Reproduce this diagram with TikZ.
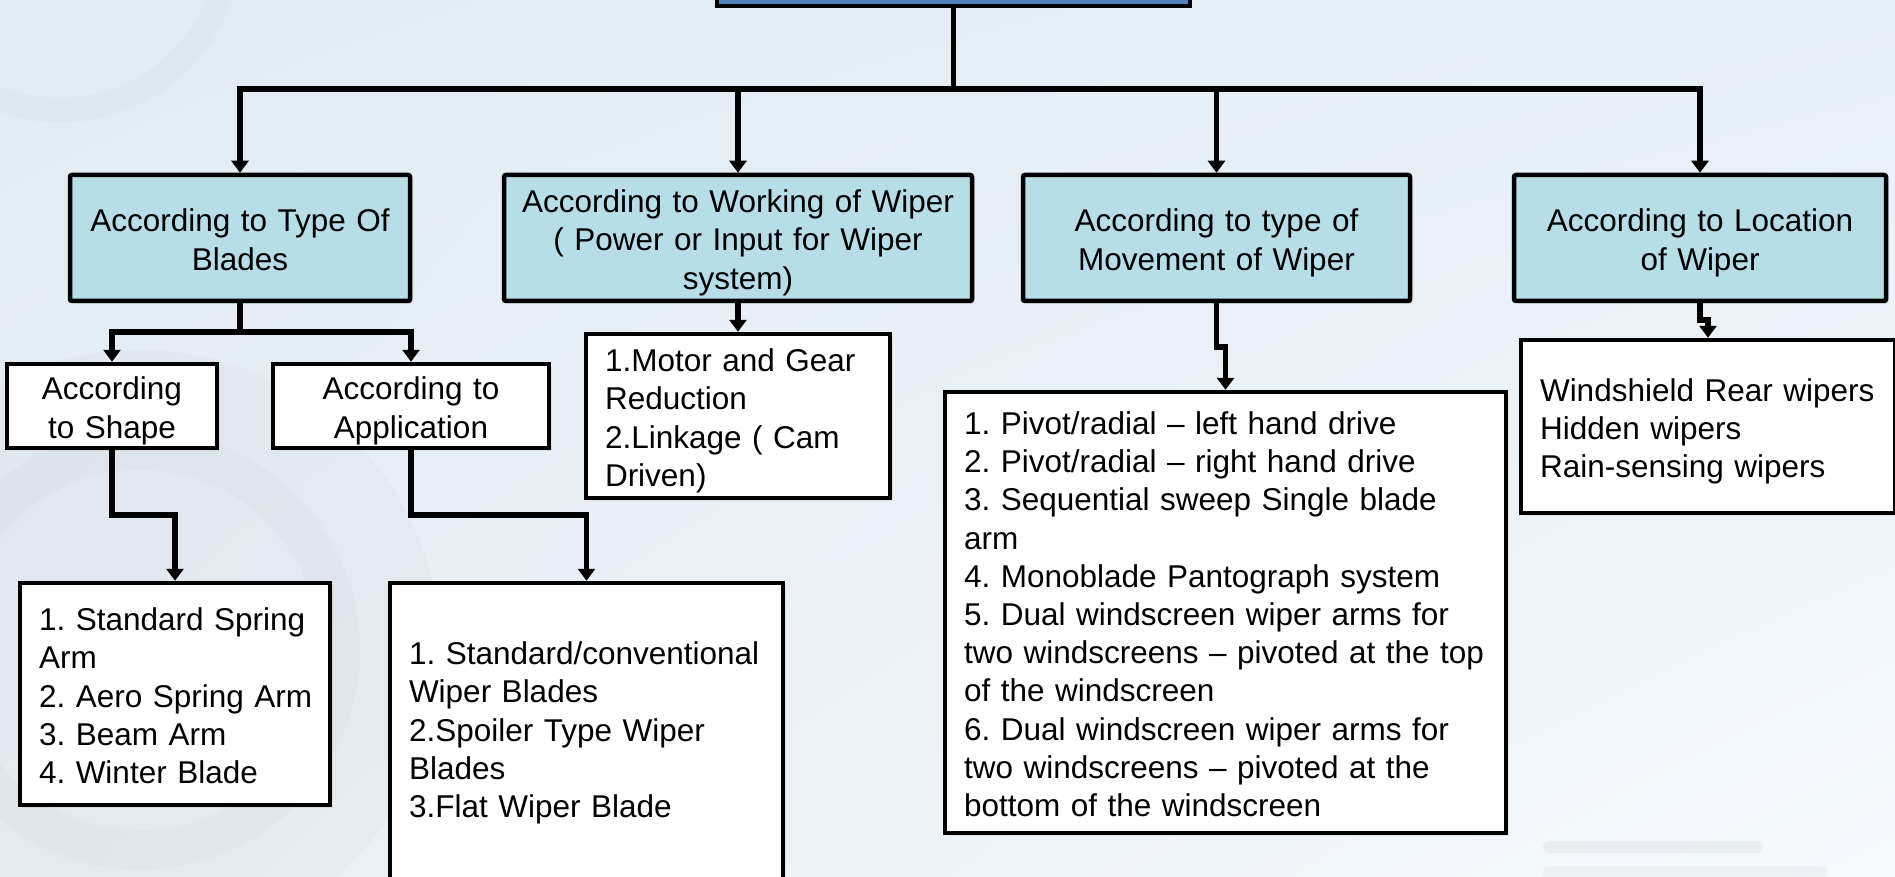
\documentclass[tikz,border=0pt]{standalone}
\usepackage{fontspec}
\setmainfont{Liberation Sans}
\usetikzlibrary{arrows.meta,shadows,shadings}

\definecolor{bgUL}{HTML}{E1EAF3}
\definecolor{bgUR}{HTML}{E7EFF7}
\definecolor{bgLL}{HTML}{E8EEF4}
\definecolor{bgLR}{HTML}{F5F9FC}
\definecolor{catfill}{HTML}{B7DDE8}
\definecolor{rootfill}{HTML}{4F81BD}

\frenchspacing
\hyphenpenalty=10000
\exhyphenpenalty=10000
\newcommand\chartfont{\fontsize{31.5pt}{38.2pt}\selectfont}

\begin{document}
\begin{tikzpicture}[x=1pt,y=-1pt,
  textbox/.style={font=\chartfont, inner ysep=0pt,
    execute at begin node={\rule{0pt}{33pt}},
    execute at end node={\rule[-7pt]{0pt}{7pt}},
    drop shadow={opacity=0.12, shadow xshift=3pt, shadow yshift=-3pt}},
  catbox/.style={textbox, draw=black, line width=4.5pt, fill=catfill,
    rounded corners=2pt, align=center, minimum height=126pt, inner xsep=0pt},
  subbox/.style={textbox, draw=black, line width=4.5pt, fill=white,
    align=center, minimum height=84pt, inner xsep=0pt},
  listbox/.style={textbox, draw=black, line width=4.5pt, fill=white,
    align=left, inner xsep=19pt},
  link/.style={draw=black, line width=5.5pt,
    -{Triangle[length=12pt,width=17pt]}}
]
\useasboundingbox (0,0) rectangle (1895,877);
\clip (0,0) rectangle (1895,877);

% backdrop
\shade[upper left=bgUL, upper right=bgUR, lower left=bgLL, lower right=bgLR]
  (0,0) rectangle (1895,877);
\fill[gray, opacity=0.04] (140,650) circle[radius=300];
\draw[gray, opacity=0.035, line width=40pt] (140,650) circle[radius=200];
\draw[gray, opacity=0.035, line width=25pt] (60,-60) circle[radius=170];
\fill[gray, opacity=0.08, rounded corners=6pt] (1543,841) rectangle (1763,853);
\fill[gray, opacity=0.06, rounded corners=6pt] (1543,866) rectangle (1827,880);

% root (runs off the top edge)
\node[draw=black, line width=4.5pt, fill=rootfill, minimum width=473pt,
  minimum height=66pt, inner sep=0pt] (root) at (953.5,-27) {};

% categories
\node[catbox, minimum width=340pt, text width=320pt] (blades) at (240,238)
  {According to Type Of\\Blades};
\node[catbox, minimum width=468pt, text width=450pt] (working) at (738,238)
  {According to Working of Wiper\\( Power or Input for Wiper\\system)};
\node[catbox, minimum width=387pt, text width=370pt] (movement) at (1216.5,238)
  {According to type of\\Movement of Wiper};
\node[catbox, minimum width=372pt, text width=355pt] (location) at (1700,238)
  {According to Location\\of Wiper};

% blade sub-categories
\node[subbox, minimum width=210pt, text width=200pt] (shape) at (112,406)
  {According\\to Shape};
\node[subbox, minimum width=276pt, text width=260pt] (application) at (411,406)
  {According to\\Application};

% lists
\node[listbox, text width=272pt, minimum height=222pt] (armlist) at (175,694)
  {1. Standard Spring\\Arm\\\mbox{2. Aero Spring Arm}\\3. Beam Arm\\4. Winter Blade};
\node[listbox, text width=355pt, minimum height=300pt,
  execute at end node={\rule[-17pt]{0pt}{17pt}}] (bladelist) at (586.5,733)
  {1. Standard/conventional\\Wiper Blades\\2.Spoiler Type Wiper\\Blades\\3.Flat Wiper Blade};
\node[listbox, text width=266pt, minimum height=164pt] (drivelist) at (738,416)
  {1.Motor and Gear\\Reduction\\2.Linkage ( Cam\\Driven)};
\node[listbox, text width=523pt, minimum height=441pt] (movelist) at (1225.5,612.5)
  {1. Pivot/radial -- left hand drive\\
   2. Pivot/radial -- right hand drive\\
   3. Sequential sweep Single blade\\arm\\
   4. Monoblade Pantograph system\\
   5. Dual windscreen wiper arms for\\two windscreens -- pivoted at the top\\of the windscreen\\
   6. Dual windscreen wiper arms for\\two windscreens -- pivoted at the\\bottom of the windscreen};
\node[listbox, text width=336pt, minimum height=173pt] (loclist) at (1708,426.5)
  {Windshield Rear wipers\\Hidden wipers\\Rain-sensing wipers};

% connector levels
\coordinate (bus) at (0,89);
\coordinate (subbus) at (0,332);
\coordinate (listbus) at (0,515);
\coordinate (movejog) at (0,347);
\coordinate (locjog) at (0,320);

% root to categories
\draw[link] (root.south) |- (blades.north |- bus) -- (blades.north);
\draw[link] (root.south) |- (working.north |- bus) -- (working.north);
\draw[link] (root.south) |- (movement.north |- bus) -- (movement.north);
\draw[link] (root.south) |- (location.north |- bus) -- (location.north);

% blades branch
\draw[link] (blades.south) |- (shape.north |- subbus) -- (shape.north);
\draw[link] (blades.south) |- (application.north |- subbus) -- (application.north);
\draw[link] (shape.south) |- (armlist.north |- listbus) -- (armlist.north);
\draw[link] (application.south) |- (bladelist.north |- listbus) -- (bladelist.north);

% remaining categories
\draw[link] (working.south) -- (drivelist.north);
\draw[link] (movement.south) |- (movelist.north |- movejog) -- (movelist.north);
\draw[link] (location.south) |- (loclist.north |- locjog) -- (loclist.north);
\end{tikzpicture}
\end{document}
